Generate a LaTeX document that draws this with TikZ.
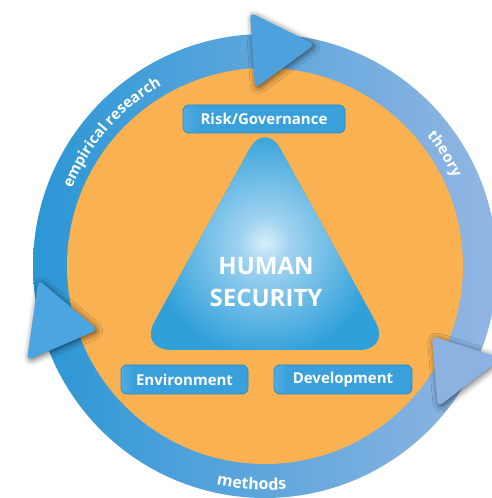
\documentclass[tikz,border=0pt]{standalone}
\usepackage{fontspec}
\setmainfont{Open Sans}
\usetikzlibrary{calc,decorations.text,shadows.blur}
\definecolor{ringL}{HTML}{2B97D5}
\definecolor{ringR}{HTML}{93B6E3}
\definecolor{orangefill}{HTML}{F9B151}
\definecolor{arrTop}{HTML}{4DA2DD}
\definecolor{arrLeft}{HTML}{4AA5E0}
\definecolor{arrRight}{HTML}{8CB2E2}
\definecolor{triblue}{HTML}{30A0DA}
\definecolor{glowc}{HTML}{D8EEFA}
\definecolor{glowm}{HTML}{9FD2F0}
\definecolor{boxL}{HTML}{C8E5F6}
\definecolor{boxB}{HTML}{3AA0DC}
\definecolor{boxE}{HTML}{2A8CC8}
\pgfdeclareradialshading{glowshade}{\pgfpoint{0bp}{0bp}}{color(0bp)=(glowc); color(5bp)=(glowm); color(22bp)=(triblue); color(50bp)=(triblue)}
\pgfdeclarehorizontalshading{boxshade}{100bp}{color(0bp)=(boxL); color(30bp)=(boxB); color(100bp)=(boxB)}
\begin{document}
\begin{tikzpicture}[x=1pt,y=1pt,
  catbox/.style={rounded corners=6, shade, shading=boxshade, draw=boxE, line width=0.8pt,
    text=white, font=\fontsize{15}{17}\selectfont\bfseries, inner sep=0pt},
  arrowshadow/.style={blur shadow={shadow xshift=1.5pt, shadow yshift=-1.5pt, shadow blur radius=6pt, shadow opacity=60}},
  hstext/.style={text=white, font=\fontsize{24}{28}\selectfont\bfseries, anchor=base, inner sep=0pt}]
\useasboundingbox (0,0) rectangle (491,498);
\coordinate (C) at (265,232);
% ring
\shade[left color=ringL, right color=ringR] (C) circle (232);
\fill[orangefill] (C) circle (198);
% arrowheads
\begin{scope}[shift={(C)}, rounded corners=5]
\fill[arrTop, arrowshadow] (93.4:254) -- (77.3:227) -- (93.2:178) -- cycle;
\fill[arrLeft, arrowshadow] (201.6:256) -- (183.5:227) -- (200.9:179) -- cycle;
\fill[arrRight, arrowshadow] (-22.8:181) -- (-39.2:223) -- (-21.3:254) -- cycle;
\end{scope}
% ring labels
\path[decorate, decoration={text along path, text align=center, text color=white,
  text={|\fontsize{15}{15}\selectfont\bfseries|empirical research}}]
  (C) ++(175:208) arc[start angle=175, end angle=103, radius=208];
\path[decorate, decoration={text along path, text align=center, text color=white,
  text={|\fontsize{15}{15}\selectfont\bfseries|theory}}]
  (C) ++(60:208) arc[start angle=60, end angle=4, radius=208];
\path[decorate, decoration={text along path, text align=center, text color=white,
  text={|\fontsize{16}{16}\selectfont\bfseries|methods}}]
  (C) ++(-131:224) arc[start angle=-131, end angle=-56, radius=224];
% triangle
\begin{scope}
\clip[rounded corners=32] (265,377) -- (391,148) -- (139,148) -- cycle;
\fill[triblue] (139,148) rectangle (391,377);
\shade[shading=glowshade] (265,255) circle (130);
\end{scope}
\node[hstext] (hsA) at (266,223) {HUMAN};
\node[hstext] (hsB) at (266,191) {SECURITY};
% boxes
\node[catbox, minimum width=162, minimum height=28] (risk) at (264,379) {Risk/Governance};
\node[catbox, minimum width=127, minimum height=29] (env) at (184.5,118.5) {Environment};
\node[catbox, minimum width=138, minimum height=29] (dev) at (343,118.5) {Development};
\end{tikzpicture}
\end{document}
